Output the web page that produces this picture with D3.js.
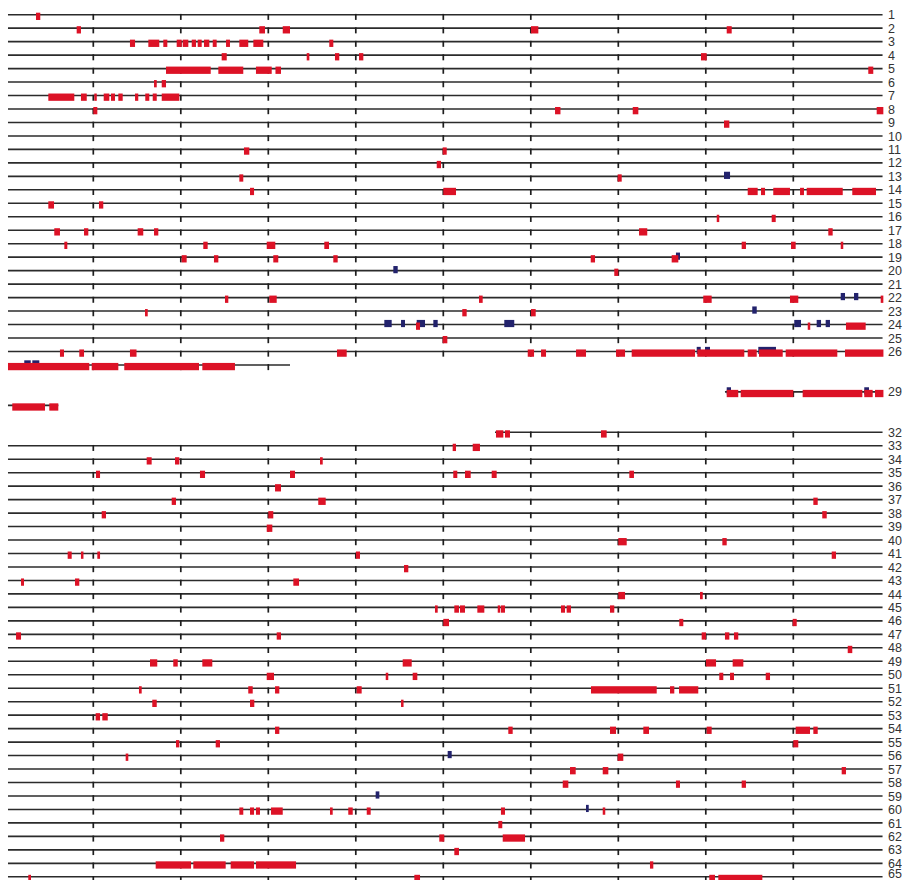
<!DOCTYPE html>
<html>
<head>
<meta charset="utf-8">
<script src="https://cdn.jsdelivr.net/npm/d3@7"></script>
<style>
  html, body { margin: 0; padding: 0; background: #fff; }
  svg { display: block; }
</style>
</head>
<body>
<svg id="chart" width="902" height="880"></svg>
<script>
// ---------- data ----------
const rowIds = d3.range(1, 66);
const rowLabels = rowIds.map(r => [27, 28, 30, 31].includes(r) ? "" : String(r));
const tickValues = [10, 20, 30, 40, 50, 60, 70, 80, 90];
const fullTrack = [0.25, 100.2];
// partial / missing tracks: [row, start, end]
const partialTracks = [
  [27, 0.25, 32.48],
  [29, 82.19, 100.2],
  [30, 0.25, 6.0],
  [32, 55.91, 100.2]
];
const missingTracks = [28, 31];

// red segments: [row, start, end]
const redSegments = [
  [1,3.45,3.94],
  [2,8.10,8.59],[2,28.97,29.62],[2,31.65,32.48],[2,60.02,60.86],[2,82.39,82.96],
  [3,14.19,14.77],[3,16.29,17.54],[3,18.00,18.46],[3,19.53,20.10],[3,20.22,20.86],[3,21.25,21.74],[3,21.93,22.39],[3,22.65,23.26],[3,23.65,24.10],[3,25.17,25.62],[3,26.69,27.71],[3,28.29,29.43],[3,36.97,37.43],
  [4,24.67,25.25],[4,34.39,34.69],[4,37.62,38.11],[4,40.37,40.86],[4,79.45,80.10],
  [5,18.31,23.42],[5,24.29,27.14],[5,28.59,30.39],[5,30.82,31.45],[5,98.57,99.14],
  [6,16.94,17.25],[6,17.82,18.31],
  [7,4.86,7.83],[7,8.59,9.25],[7,10.11,10.39],[7,11.19,11.83],[7,12.02,12.48],[7,12.86,13.36],[7,14.77,15.14],[7,15.94,16.40],[7,16.79,17.25],[7,17.82,19.83],
  [8,10.00,10.46],[8,62.77,63.39],[8,71.65,72.29],[8,99.53,100.29],
  [9,82.08,82.69],
  [11,27.22,27.83],[11,49.93,50.39],
  [12,49.25,49.74],
  [13,26.69,27.14],[13,69.93,70.39],
  [14,27.91,28.37],[14,50.00,51.45],[14,84.79,85.93],[14,86.31,86.77],[14,87.71,89.62],[14,90.77,91.22],[14,91.53,95.65],[14,96.74,99.45],
  [15,4.86,5.51],[15,10.65,11.14],
  [16,81.25,81.47],[16,87.53,87.99],
  [17,5.54,6.19],[17,8.94,9.43],[17,15.07,15.71],[17,16.94,17.43],[17,72.37,73.31],[17,94.00,94.50],
  [18,6.69,7.03],[18,22.57,23.07],[18,29.82,30.80],[18,36.40,36.94],[18,84.10,84.59],[18,89.74,90.27],[18,95.42,95.71],
  [19,20.10,20.67],[19,23.79,24.29],[19,30.57,31.14],[19,37.43,37.93],[19,66.85,67.34],[19,76.10,76.86],
  [20,69.54,70.00],
  [22,25.05,25.43],[22,30.11,30.96],[22,54.08,54.50],[22,79.71,80.67],[22,89.62,90.57],[22,99.99,100.29],
  [23,15.91,16.22],[23,52.17,52.67],[23,60.02,60.56],
  [24,46.88,47.34],[24,91.65,91.91],[24,96.02,98.27],
  [25,49.93,50.46],
  [26,6.19,6.65],[26,8.40,8.94],[26,14.19,14.94],[26,37.85,38.96],[26,59.65,60.37],[26,61.17,61.74],[26,65.17,66.31],[26,69.74,70.77],[26,71.53,78.77],[26,79.03,84.40],[26,84.79,85.82],[26,86.08,88.79],[26,89.13,95.03],[26,95.91,100.3],
  [27,0.25,9.54],[27,9.82,12.86],[27,13.54,22.08],[27,22.46,26.19],
  [29,82.39,83.71],[29,83.99,90.00],[29,91.07,97.89],[29,98.11,99.07],[29,99.34,100.3],
  [30,0.74,4.48],[30,4.97,6.00],
  [32,56.02,56.86],[32,57.05,57.62],[32,68.02,68.67],
  [33,51.07,51.45],[33,53.36,54.19],
  [34,16.10,16.67],[34,19.34,19.83],[34,35.91,36.22],
  [35,10.31,10.77],[35,22.19,22.77],[35,32.48,33.05],[35,51.14,51.60],[35,52.48,53.13],[35,55.53,56.10],[35,71.26,71.79],
  [36,30.77,31.45],
  [37,18.96,19.45],[37,35.71,36.56],[37,92.29,92.79],
  [38,10.96,11.45],[38,30.00,30.57],[38,93.31,93.82],
  [39,29.82,30.46],
  [40,70.00,70.96],[40,81.89,82.39],
  [41,7.07,7.53],[41,8.59,8.86],[41,10.46,10.77],[41,40.02,40.48],[41,94.39,94.88],
  [42,45.51,46.00],
  [43,1.74,2.08],[43,7.91,8.40],[43,32.86,33.51],
  [44,70.00,70.77],[44,79.34,79.65],
  [45,49.05,49.36],[45,51.26,51.79],[45,51.91,52.48],[45,53.89,54.69],[45,56.22,56.48],[45,56.59,57.05],[45,63.45,63.91],[45,64.10,64.59],[45,69.05,69.54],
  [46,50.00,50.65],[46,76.97,77.43],[46,89.93,90.39],
  [47,1.17,1.74],[47,30.96,31.45],[47,79.53,80.02],[47,82.19,82.69],[47,83.22,83.71],
  [48,96.22,96.74],
  [49,16.48,17.31],[49,19.14,19.65],[49,22.46,23.60],[49,45.36,46.39],[49,80.02,81.17],[49,83.07,84.29],
  [50,29.82,30.65],[50,43.42,43.71],[50,46.50,47.03],[50,81.54,82.00],[50,82.77,83.22],[50,86.85,87.34],
  [51,15.22,15.53],[51,27.71,28.22],[51,30.77,31.26],[51,40.10,40.67],[51,66.88,74.39],[51,75.91,76.40],[51,76.94,79.14],
  [52,16.74,17.25],[52,27.91,28.40],[52,45.17,45.43],
  [53,10.27,10.77],[53,11.03,11.65],
  [54,30.77,31.26],[54,57.43,57.93],[54,69.05,69.74],[54,72.86,73.51],[54,80.10,80.67],[54,90.27,91.91],[54,92.29,92.79],
  [55,19.45,19.83],[55,23.99,24.48],[55,90.00,90.57],
  [56,13.70,14.00],[56,69.93,70.57],
  [57,64.48,65.13],[57,68.22,68.86],[57,95.53,96.02],
  [58,63.65,64.29],[58,76.59,77.05],[58,84.10,84.59],
  [60,26.69,27.14],[60,27.91,28.37],[60,28.59,29.05],[60,30.31,31.65],[60,37.05,37.36],[60,39.14,39.65],[60,41.25,41.70],[60,56.59,57.05],[60,68.22,68.51],
  [61,56.29,56.74],
  [62,24.48,24.97],[62,49.54,50.11],[62,56.79,59.34],
  [63,51.26,51.79],
  [64,17.13,21.17],[64,21.43,25.13],[64,25.70,28.37],[64,28.59,33.17],[64,73.62,74.00],
  [65,2.57,2.88],[65,46.69,47.34],[65,80.40,81.05],[65,81.43,86.46]
];

// blue segments: [row, start, end]
const blueSegments = [
  [13,82.08,82.77],
  [19,76.59,77.05],
  [20,44.29,44.79],
  [22,95.42,95.91],[22,96.94,97.43],
  [23,85.31,85.82],
  [24,43.26,44.10],[24,45.17,45.62],[24,46.96,47.91],[24,48.86,49.36],[24,56.97,58.11],[24,90.11,90.88],[24,92.67,93.17],[24,93.70,94.19],
  [26,78.96,79.42],[26,79.91,80.48],[26,86.00,88.02],
  [27,2.11,2.85],[27,3.03,3.83],
  [29,82.39,82.88],[29,98.11,98.65],
  [56,50.50,50.96],
  [59,42.27,42.69],
  [60,66.31,66.62]
];

// ---------- drawing ----------
const svg = d3.select("#chart");
const W = 902, H = 880;
const x = d3.scaleLinear().domain([0, 100]).range([5.8, 880.8]);
const y = d3.scalePoint().domain(rowIds).range([14.7, 876.8]);

const RED = "#dc1226";
const BLUE = "#22226c";
const LINE = "#2b2b2b";

// tracks
const tracks = rowIds
  .filter(r => !missingTracks.includes(r))
  .map(r => {
    const p = partialTracks.find(t => t[0] === r);
    return p ? { row: r, start: p[1], end: p[2] } : { row: r, start: fullTrack[0], end: fullTrack[1] };
  });

const g = svg.append("g");

g.selectAll("line.track")
  .data(tracks)
  .join("line")
  .attr("class", "track")
  .attr("x1", d => x(d.start))
  .attr("x2", d => x(d.end))
  .attr("y1", d => y(d.row))
  .attr("y2", d => y(d.row))
  .attr("stroke", LINE)
  .attr("stroke-width", 1.6);

// ticks
const tickData = [];
tracks.forEach(t => {
  tickValues.forEach(v => {
    if (v >= t.start && v <= t.end) tickData.push({ row: t.row, v });
  });
});
g.selectAll("line.tick")
  .data(tickData)
  .join("line")
  .attr("class", "tick")
  .attr("x1", d => x(d.v))
  .attr("x2", d => x(d.v))
  .attr("y1", d => y(d.row) - 0.8)
  .attr("y2", d => y(d.row) + 5.2)
  .attr("stroke", "#1e1e1e")
  .attr("stroke-width", 1.7);

// blue segments (underneath red)
g.selectAll("rect.blue")
  .data(blueSegments)
  .join("rect")
  .attr("class", "blue")
  .attr("x", d => x(d[1]))
  .attr("width", d => Math.max(2.5, x(d[2]) - x(d[1])))
  .attr("y", d => y(d[0]) - 4.6)
  .attr("height", 7.2)
  .attr("fill", BLUE);

// red segments
g.selectAll("rect.red")
  .data(redSegments)
  .join("rect")
  .attr("class", "red")
  .attr("x", d => x(d[1]))
  .attr("width", d => Math.max(2.5, x(d[2]) - x(d[1])))
  .attr("y", d => y(d[0]) - 2)
  .attr("height", 7.3)
  .attr("fill", RED);

// labels
g.selectAll("text.lbl")
  .data(rowIds.filter((r, i) => rowLabels[i] !== ""))
  .join("text")
  .attr("class", "lbl")
  .attr("x", 888)
  .attr("y", d => Math.min(y(d) + 4.6, H - 2))
  .attr("font-family", "'Liberation Sans', Arial, sans-serif")
  .attr("font-size", 12.5)
  .attr("fill", "#333")
  .text(d => rowLabels[d - 1]);
</script>
</body>
</html>
